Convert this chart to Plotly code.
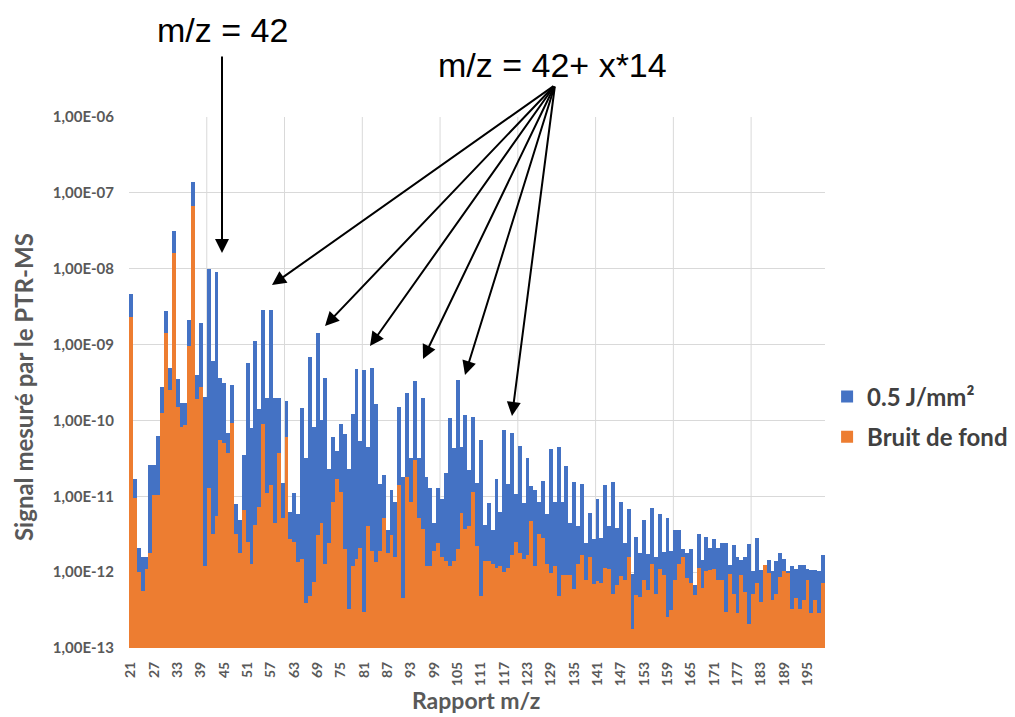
import plotly.graph_objects as go

# ---------------- data ----------------
mz = list(range(21, 200))

signal_05 = [
    4.7e-9, 1.7e-11, 2.1e-12, 1.6e-12, 1.6e-12, 2.6e-11, 2.6e-11, 6.3e-11, 2.8e-10, 2.8e-9,      # 21-30
    4.9e-10, 3.1e-8, 3.5e-10, 1.7e-10, 1.7e-10, 2.1e-9, 1.4e-7, 4.0e-10, 1.9e-9, 2.05e-10,       # 31-40
    9.9e-9, 6.0e-10, 9.1e-9, 3.6e-10, 3.1e-10, 6.9e-11, 2.9e-10, 7.8e-12, 4.8e-12, 3.5e-11,      # 41-50
    5.8e-10, 7.9e-11, 1.1e-9, 1.4e-10, 2.85e-9, 1.95e-10, 2.85e-9, 2.0e-10, 2.0e-10, 1.5e-11,    # 51-60
    1.8e-10, 6.2e-12, 1.1e-11, 5.9e-12, 1.45e-10, 3.2e-11, 6.8e-10, 8.3e-11, 1.4e-9, 1.0e-10,    # 61-70
    3.6e-10, 2.3e-11, 6.1e-11, 4.0e-11, 9.0e-11, 6.7e-11, 2.3e-11, 1.2e-10, 4.7e-10, 5.4e-11,    # 71-80
    4.6e-10, 4.5e-11, 4.9e-10, 1.65e-10, 1.45e-11, 1.9e-11, 3.6e-12, 1.2e-11, 8.3e-12, 1.5e-10,  # 81-90
    1.8e-11, 2.3e-10, 3.2e-11, 3.3e-10, 3.2e-11, 1.95e-10, 1.8e-11, 1.3e-11, 4.5e-12, 1.3e-11,   # 91-100
    9.3e-12, 2.0e-11, 1.07e-10, 4.3e-11, 3.4e-10, 4.4e-11, 1.17e-10, 2.2e-11, 1.1e-10, 1.5e-11,  # 101-110
    5.5e-11, 4.2e-12, 8.1e-12, 3.6e-12, 1.7e-11, 6.3e-12, 7.5e-11, 1.45e-11, 6.9e-11, 1.07e-11,  # 111-120
    4.6e-11, 8.1e-12, 3.2e-11, 1.35e-11, 1.2e-11, 8.3e-12, 1.6e-11, 5.9e-12, 4.2e-11, 8.5e-12,   # 121-130
    4.4e-11, 8.5e-12, 2.5e-11, 4.4e-12, 1.55e-11, 4.1e-12, 1.45e-11, 2.4e-12, 6.1e-12, 2.7e-12,  # 131-140
    9.1e-12, 2.8e-12, 1.4e-11, 4.0e-12, 1.55e-11, 3.8e-12, 8.3e-12, 2.45e-12, 6.8e-12, 9.5e-13,  # 141-150
    2.9e-12, 1.8e-12, 4.8e-12, 1.75e-12, 7.1e-12, 1.6e-12, 5.9e-12, 1.85e-12, 5.1e-12, 1.9e-12,  # 151-160
    3.6e-12, 3.6e-12, 2.0e-12, 1.8e-12, 2.0e-12, 6.8e-13, 3.2e-12, 1.45e-12, 2.9e-12, 2.1e-12,   # 161-170
    2.7e-12, 2.1e-12, 2.4e-12, 2.4e-12, 1.25e-12, 2.3e-12, 1.6e-12, 1.45e-12, 1.6e-12, 2.35e-12, # 171-180
    1.02e-12, 2.8e-12, 1.07e-12, 1.15e-12, 1.45e-12, 1.02e-12, 1.4e-12, 1.8e-12, 1.5e-12, 1.02e-12,  # 181-190
    1.2e-12, 1.1e-12, 1.25e-12, 1.25e-12, 1.1e-12, 1.07e-12, 1.07e-12, 1.02e-12, 1.7e-12,         # 191-199
]

bruit_fond = [
    2.3e-9, 9.4e-12, 1.0e-12, 5.7e-13, 1.1e-12, 1.8e-12, 1.04e-11, 1.04e-11, 1.24e-10, 1.4e-9,   # 21-30
    2.5e-10, 1.6e-8, 1.5e-10, 8.3e-11, 8.7e-11, 9.6e-10, 6.7e-8, 1.9e-10, 2.8e-10, 1.2e-12,      # 31-40
    1.3e-11, 3.2e-12, 5.5e-12, 5.5e-11, 5.0e-11, 3.7e-11, 9.3e-11, 3.2e-12, 1.8e-12, 6.6e-12,    # 41-50
    2.5e-12, 1.3e-12, 4.2e-12, 7.2e-12, 9.1e-11, 1.1e-11, 1.4e-11, 4.4e-12, 3.7e-11, 5.1e-12,    # 51-60
    6.1e-11, 2.7e-12, 2.5e-12, 1.35e-12, 1.5e-12, 3.9e-13, 4.8e-13, 7.5e-13, 3.1e-12, 4.4e-12,   # 61-70
    1.3e-12, 2.4e-12, 8.5e-12, 1.7e-11, 1.15e-11, 2.0e-12, 3.3e-13, 1.2e-12, 1.5e-12, 2.1e-12,   # 71-80
    3.0e-13, 4.1e-12, 1.9e-12, 1.35e-12, 1.9e-12, 5.1e-12, 1.8e-12, 3.1e-12, 1.6e-12, 1.4e-11,   # 81-90
    4.6e-13, 1.8e-11, 8.3e-12, 3.0e-11, 5.1e-12, 3.7e-12, 1.2e-12, 1.2e-12, 1.9e-12, 2.4e-12,    # 91-100
    1.6e-12, 1.4e-12, 1.2e-12, 1.4e-12, 2.0e-12, 6.0e-12, 3.7e-12, 4.0e-12, 1.15e-11, 2.2e-12,   # 101-110
    4.8e-13, 1.4e-12, 1.4e-12, 1.3e-12, 1.15e-12, 1.2e-12, 1.0e-12, 1.15e-12, 1.7e-12, 2.5e-12,  # 111-120
    1.8e-12, 1.5e-12, 1.7e-12, 4.7e-12, 1.2e-12, 3.2e-12, 2.8e-12, 1.3e-12, 9.8e-13, 1.2e-12,    # 121-130
    4.8e-13, 9.1e-13, 9.1e-13, 9.1e-13, 6.0e-13, 1.3e-12, 1.7e-12, 7.9e-13, 1.6e-12, 6.9e-13,    # 131-140
    7.7e-13, 7.3e-13, 1.15e-12, 1.1e-12, 5.2e-13, 6.8e-13, 8.9e-13, 7.9e-13, 1.6e-12, 1.8e-13,   # 141-150
    5.0e-13, 4.7e-13, 7.9e-13, 5.9e-13, 1.3e-12, 5.2e-13, 1.1e-12, 9.2e-13, 2.6e-13, 3.2e-13,    # 151-160
    7.9e-13, 1.3e-12, 1.6e-12, 8.3e-13, 7.1e-13, 5.0e-13, 1.15e-12, 6.1e-13, 1.02e-12, 1.07e-12, # 161-170
    1.1e-12, 7.9e-13, 7.9e-13, 3.0e-13, 9.4e-13, 5.2e-13, 2.9e-13, 9.2e-13, 5.5e-13, 2.1e-13,    # 171-180
    5.2e-13, 7.1e-13, 4.1e-13, 1.25e-12, 9.8e-13, 4.3e-13, 5.2e-13, 8.7e-13, 1.02e-12, 9.6e-13,  # 181-190
    3.3e-13, 4.5e-13, 3.3e-13, 4.3e-13, 7.9e-13, 2.9e-13, 4.3e-13, 2.9e-13, 7.1e-13,             # 191-199
]

x_tick_vals = [21, 27, 33, 39, 45, 51, 57, 63, 69, 75, 81, 87, 93, 99, 105, 111, 117, 123,
               129, 135, 141, 147, 153, 159, 165, 171, 177, 183, 189, 195]
x_tick_text = [str(v) for v in x_tick_vals]
y_tick_vals = [1e-13, 1e-12, 1e-11, 1e-10, 1e-9, 1e-8, 1e-7, 1e-6]
y_tick_text = ["1,00E-13", "1,00E-12", "1,00E-11", "1,00E-10",
               "1,00E-09", "1,00E-08", "1,00E-07", "1,00E-06"]
x_grid_positions = [40.5, 60.5, 80.5, 100.5, 120.5, 140.5, 160.5, 180.5]

assert len(signal_05) == len(mz) and len(bruit_fond) == len(mz)

BLUE = "#4472C4"
ORANGE = "#ED7D31"
GRAY = "#595959"
FONT = "Lato"

fig = go.Figure()
fig.add_trace(go.Bar(x=mz, y=signal_05, name="0.5 J/mm²", marker=dict(color=BLUE, line=dict(width=0)),
                     legendgroup="a"))
fig.add_trace(go.Bar(x=mz, y=bruit_fond, name="Bruit de fond", marker=dict(color=ORANGE, line=dict(width=0)),
                     legendgroup="b"))

shapes = []
for gx in x_grid_positions:
    shapes.append(dict(type="line", xref="x", yref="paper", x0=gx, x1=gx, y0=0, y1=1,
                       line=dict(color="#D9D9D9", width=1), layer="below"))

# layout geometry (pixels)
L, R, T, B = 129, 190, 117, 69
W, H = 1015, 717
pw, ph = W - L - R, H - T - B

def px(xp):
    return (xp - L) / pw

def py(yp):
    return (H - B - yp) / ph

annotations = [
    dict(text="m/z = 42", xref="paper", yref="paper", x=px(222), y=py(30), showarrow=False,
         font=dict(family="Liberation Sans", size=34, color="black"), xanchor="center", yanchor="middle"),
    dict(text="m/z = 42+ x*14", xref="paper", yref="paper", x=px(552), y=py(65), showarrow=False,
         font=dict(family="Liberation Sans", size=34, color="black"), xanchor="center", yanchor="middle"),
    dict(text="Signal mesuré par le PTR-MS", xref="paper", yref="paper", x=px(23), y=py(387),
         textangle=-90, showarrow=False, font=dict(family=FONT, size=24, color=GRAY, weight="bold"),
         xanchor="center", yanchor="middle"),
    dict(text="Rapport m/z", xref="paper", yref="paper", x=px(476), y=py(700), showarrow=False,
         font=dict(family=FONT, size=23, color=GRAY, weight="bold"), xanchor="center", yanchor="middle"),
]

arrow_tail = (555, 85)
arrow_tips = [(272, 285), (325, 326), (370, 346), (423, 359), (465, 375), (512, 416)]
annotations.append(dict(text="", xref="paper", yref="paper", x=px(222), y=py(253), ax=0, ay=-198,
                        showarrow=True, arrowhead=2, arrowsize=1.4, arrowwidth=2, arrowcolor="black"))
for tx, ty in arrow_tips:
    annotations.append(dict(text="", xref="paper", yref="paper", x=px(tx), y=py(ty),
                            ax=arrow_tail[0] - tx, ay=arrow_tail[1] - ty,
                            showarrow=True, arrowhead=2, arrowsize=1.4, arrowwidth=2, arrowcolor="black"))

fig.update_layout(
    width=W, height=H,
    margin=dict(l=L, r=R, t=T, b=B, autoexpand=False),
    paper_bgcolor="white", plot_bgcolor="white",
    barmode="overlay", bargap=0,
    shapes=shapes, annotations=annotations,
    legend=dict(x=1.003, y=0.435, xanchor="left", yanchor="middle",
                font=dict(family=FONT, size=24, color="#404040", weight="bold"),
                traceorder="grouped", tracegroupgap=6, bgcolor="rgba(0,0,0,0)"),
    xaxis=dict(range=[20.5, 199.5], tickmode="array", tickvals=x_tick_vals, ticktext=x_tick_text,
               tickangle=-90, tickfont=dict(family=FONT, size=14, color=GRAY, weight="bold"),
               showgrid=False, zeroline=False, showline=False, ticks="", ticklabelstandoff=10),
    yaxis=dict(type="log", range=[-13, -6], tickmode="array", tickvals=y_tick_vals, ticktext=y_tick_text,
               tickfont=dict(family=FONT, size=15, color=GRAY, weight="bold"),
               showgrid=True, gridcolor="#D9D9D9", gridwidth=1, zeroline=False, showline=False,
               ticks="", ticklabelstandoff=14),
)

fig.write_html("out.html", config={"displayModeBar": False},
               post_script="document.body.style.margin='0px';document.body.style.overflow='hidden';")
